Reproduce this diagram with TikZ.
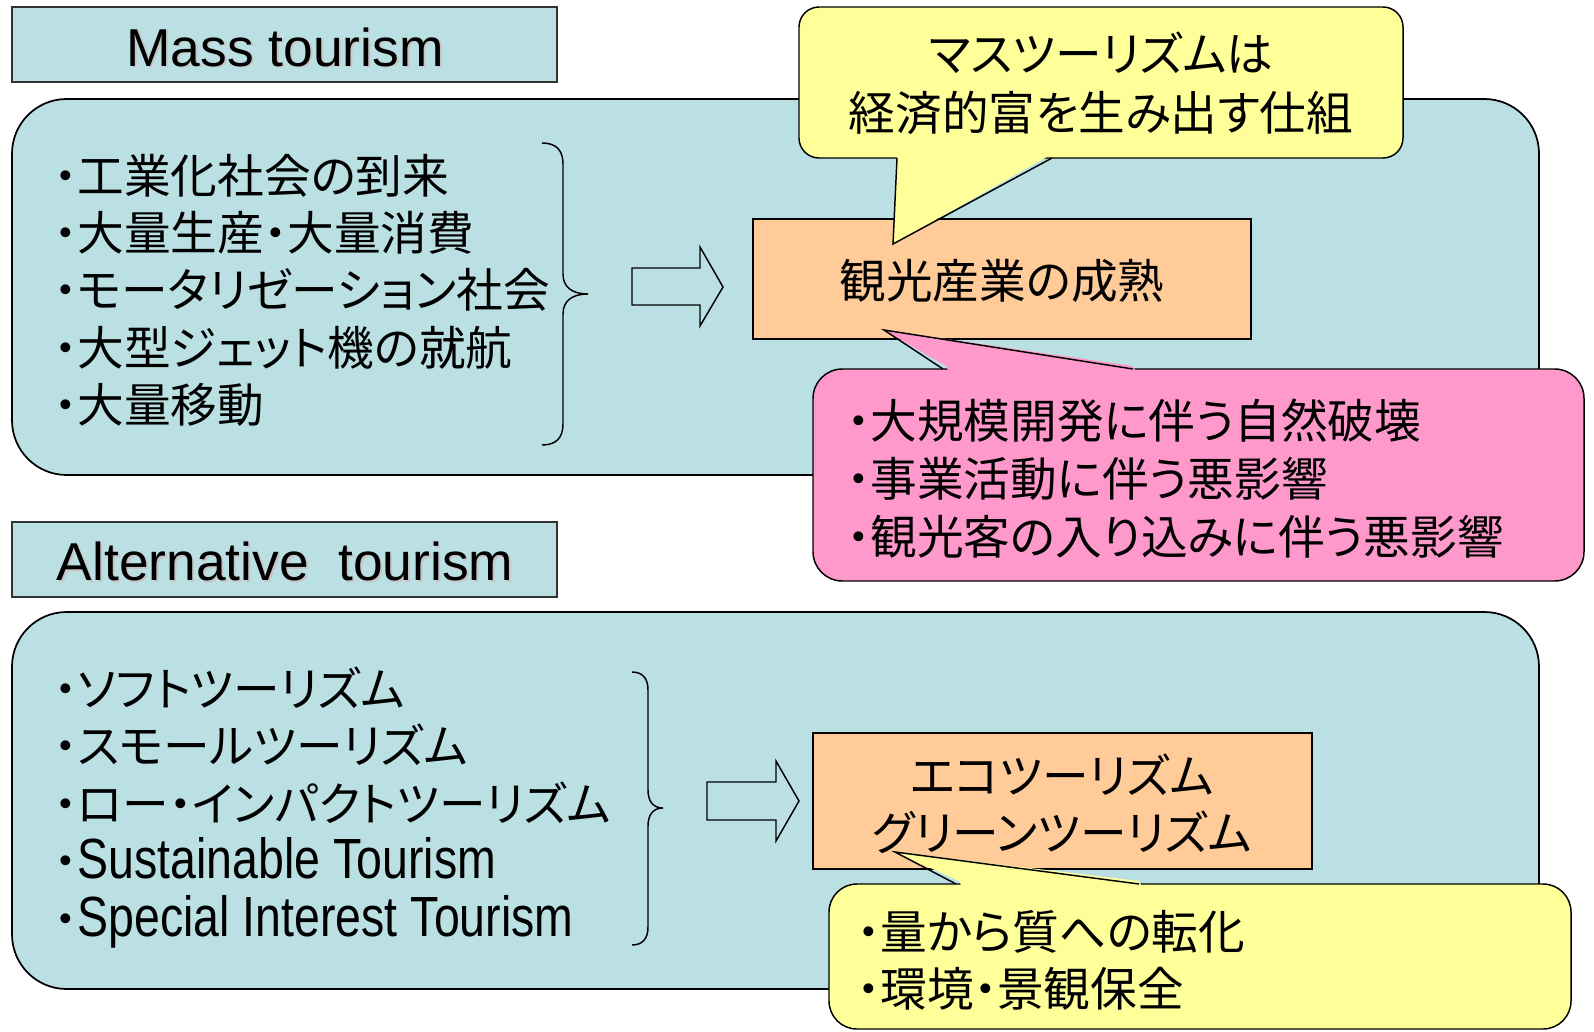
\documentclass[tikz,border=0pt]{standalone}
\usepackage{fontspec}
\setmainfont{Liberation Sans}
\newfontfamily\jp[RawFeature={+palt}]{Noto Sans CJK JP}
\newfontfamily\narrowlat[FakeStretch=0.82]{Liberation Sans}
\definecolor{panelblue}{RGB}{187,224,227}
\definecolor{orangebox}{RGB}{255,204,153}
\definecolor{yelbox}{RGB}{255,255,153}
\definecolor{pinkbox}{RGB}{255,153,204}
\tikzset{
  panel/.style={draw=black, line width=1.3pt, fill=panelblue, rounded corners=41pt},
  header/.style={draw=black!80, line width=0.9pt, fill=panelblue},
  obox/.style={draw=black, line width=1.1pt, fill=orangebox},
  callout/.style={draw=black, line width=1.1pt},
  bracestyle/.style={draw=black, line width=1.1pt},
  blockarrow/.style={draw=black, line width=1.1pt, fill=panelblue, line join=miter},
  jpt/.style={font=\jp\fontsize{35}{43}\selectfont, inner sep=0pt},
  hdr/.style={font=\fontsize{40}{48}\selectfont, inner sep=0pt},
  hdrshadow/.style={font=\fontsize{40}{48}\selectfont, inner sep=0pt, text=black!22},
}
\newcommand{\latn}[1]{{\narrowlat\fontsize{42.5}{48}\selectfont #1}}
\begin{document}
\begin{tikzpicture}[x=0.75pt,y=-0.75pt]
\useasboundingbox[fill=white] (0,0) rectangle (1594,1031);

% panels
\draw[panel] (12,99) rectangle (1539,475);
\draw[panel] (12,612) rectangle (1539,989);

% headers
\draw[header] (12,7) rectangle (557,82);
\draw[header] (12,522) rectangle (557,597);
\node[hdrshadow, anchor=base] (mts) at (287,68) {Mass tourism};
\node[hdr, anchor=base] (mt) at (285,66) {Mass tourism};
\node[hdrshadow, anchor=base] (ats) at (287,582) {Alternative\ \ tourism};
\node[hdr, anchor=base] (at) at (285,580) {Alternative\ \ tourism};

% braces
\draw[bracestyle] (542,143) .. controls (556,143) and (563,150) .. (563,164) -- (563,274)
  .. controls (563,287) and (572,294) .. (588,294)
  .. controls (572,294) and (563,301) .. (563,314) -- (563,424)
  .. controls (563,438) and (556,445) .. (542,445);
\draw[bracestyle] (632,672) .. controls (643,672) and (648,679) .. (648,690) -- (648,790)
  .. controls (648,801) and (653,808) .. (663,808)
  .. controls (653,808) and (648,815) .. (648,826) -- (648,927)
  .. controls (648,938) and (643,945) .. (632,945);

% block arrows
\draw[blockarrow] (632,268) -- (700,268) -- (700,247) -- (723,287) -- (700,326) -- (700,305) -- (632,305) -- cycle;
\draw[blockarrow] (707,782) -- (776,782) -- (776,761) -- (799,801) -- (776,841) -- (776,820) -- (707,820) -- cycle;

% orange boxes
\draw[obox] (753,219) rectangle (1251,339);
\draw[obox] (813,733) rectangle (1312,869);

% yellow callout 1
\draw[callout, fill=yelbox, rounded corners=15pt] (799,7) rectangle (1403,158);
\fill[yelbox] (897,154) -- (893,244) -- (1052,154) -- cycle;
\draw[callout, line join=miter] (897,158) -- (893,244) -- (1052,158);

% pink callout
\draw[callout, fill=pinkbox, rounded corners=22pt] (813,369) rectangle (1584,581);
\fill[pinkbox] (946,366) -- (884,330) -- (1133,366) -- (1136,372) -- (949,372) -- cycle;
\draw[callout, line join=miter] (943,369) -- (884,330) -- (1133,369);

% yellow callout 2
\draw[callout, fill=yelbox, rounded corners=21pt] (829,884) rectangle (1571,1029);
\fill[yelbox] (959,881) -- (895,852) -- (1139,881) -- (1142,887) -- (962,887) -- cycle;
\draw[callout, line join=miter] (956,884) -- (895,852) -- (1139,884);

% texts top list
\node[jpt, anchor=base west] (t1) at (54,193) {・工業化社会の到来};
\node[jpt, anchor=base west] (t2) at (54,250) {・大量生産・大量消費};
\node[jpt, anchor=base west] (t3) at (54,307) {・モータリゼーション社会};
\node[jpt, anchor=base west] (t4) at (54,365) {・大型ジェット機の就航};
\node[jpt, anchor=base west] (t5) at (54,422) {・大量移動};

% bottom list
\node[jpt, anchor=base west] (b1) at (54,706) {・ソフトツーリズム};
\node[jpt, anchor=base west] (b2) at (54,763) {・スモールツーリズム};
\node[jpt, anchor=base west] (b3) at (54,821) {・ロー・インパクトツーリズム};
\node[jpt, anchor=base west] (b4) at (54,878) {・\latn{Sustainable Tourism}};
\node[jpt, anchor=base west] (b5) at (54,936) {・\latn{Special Interest Tourism}};

% box texts
\node[jpt, anchor=base] (o1) at (1002,298) {観光産業の成熟};
\node[jpt, anchor=base] (o2a) at (1062,793) {エコツーリズム};
\node[jpt, anchor=base] (o2b) at (1062,850) {グリーンツーリズム};

% callout texts
\node[jpt, anchor=base] (y1a) at (1101,71) {マスツーリズムは};
\node[jpt, anchor=base] (y1b) at (1101,130) {経済的富を生み出す仕組};
\node[jpt, anchor=base west] (p1) at (847,438) {・大規模開発に伴う自然破壊};
\node[jpt, anchor=base west] (p2) at (847,496) {・事業活動に伴う悪影響};
\node[jpt, anchor=base west] (p3) at (847,554) {・観光客の入り込みに伴う悪影響};
\node[jpt, anchor=base west] (y2a) at (857,949) {・量から質への転化};
\node[jpt, anchor=base west] (y2b) at (857,1006) {・環境・景観保全};
\end{tikzpicture}
\end{document}
